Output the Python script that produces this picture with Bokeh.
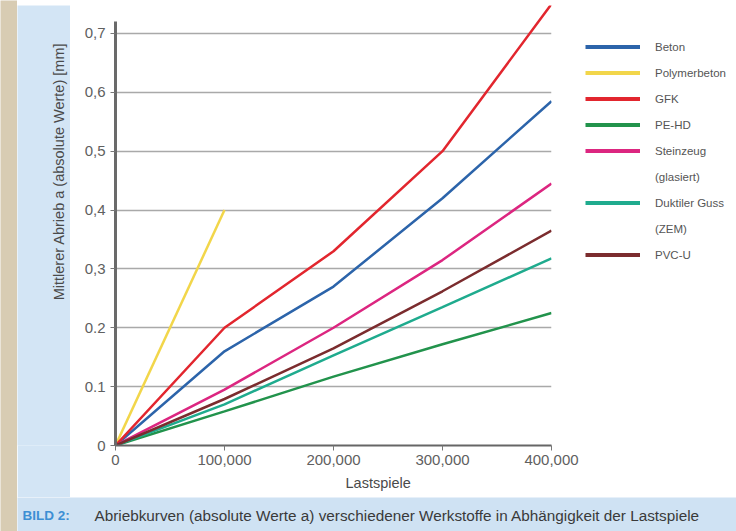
from bokeh.plotting import figure
from bokeh.models import Legend, LegendItem, Label, FixedTicker, Range1d, Title
from bokeh.layouts import row, column
from bokeh.embed import file_html
from bokeh.resources import INLINE
import math

# ---- data ----
lastspiele = [0, 100000, 200000, 300000, 400000]
polymer_x = [0, 100000]
beton = [0, 0.16, 0.27, 0.42, 0.585]
polymerbeton = [0, 0.40]
gfk = [0, 0.20, 0.33, 0.50, 0.75]
pe_hd = [0, 0.058, 0.117, 0.172, 0.225]
steinzeug = [0, 0.095, 0.20, 0.315, 0.445]
duktil = [0, 0.07, 0.153, 0.235, 0.318]
pvc_u = [0, 0.079, 0.165, 0.262, 0.365]

series_names = ["Beton", "Polymerbeton", "GFK", "PE-HD", "Steinzeug", "(glasiert)",
                "Duktiler Guss", "(ZEM)", "PVC-U"]

y_ticks = [0, 0.1, 0.2, 0.3, 0.4, 0.5, 0.6, 0.7]
y_tick_labels = ["0", "0.1", "0.2", "0,3", "0,4", "0,5", "0,6", "0,7"]
x_ticks = [0, 100000, 200000, 300000, 400000]
x_tick_labels = ["0", "100,000", "200,000", "300,000", "400,000"]

FONT = "Liberation Sans"
TXT = "#4a4a4a"
colors = {"Beton": "#2c64aa", "Polymerbeton": "#f2d64a", "GFK": "#e2262e",
          "PE-HD": "#22934c", "Steinzeug": "#dc2680", "Duktiler Guss": "#1fab8e",
          "PVC-U": "#7b2c2e"}


def blank_fig(w, h, color):
    f = figure(width=w, height=h, output_backend="svg", toolbar_location=None,
               x_axis_location=None, y_axis_location=None,
               x_range=Range1d(0, 1), y_range=Range1d(0, 1),
               min_border=0, min_border_left=0, min_border_right=0,
               min_border_top=0, min_border_bottom=0)
    f.grid.visible = False
    f.outline_line_color = None
    f.background_fill_color = color
    f.border_fill_color = color
    return f


BEIGE = "#d8ccb3"
beige_left = blank_fig(17, 531, BEIGE)
beige_top = blank_fig(719, 5, BEIGE)

# light blue strip with y-axis title
strip = blank_fig(53, 492, "#d3e5f5")
strip.add_layout(Label(x=41, y=274, x_units="screen", y_units="screen",
                       text="Mittlerer Abrieb a (absolute Werte) [mm]",
                       angle=math.pi / 2, text_align="center", text_baseline="middle",
                       text_font=FONT, text_font_size="14.5px", text_color=TXT))

# caption band
cap = blank_fig(719, 34, "#cfe2f3")
cap.add_layout(Label(x=5, y=16, x_units="screen", y_units="screen", text="BILD 2:",
                     text_font=FONT, text_font_size="13.5px", text_color="#3d8fd4",
                     text_font_style="bold", text_baseline="middle"))
cap.add_layout(Label(x=77, y=16, x_units="screen", y_units="screen",
                     text="Abriebkurven (absolute Werte a) verschiedener Werkstoffe in Abhängigkeit der Lastspiele",
                     text_font=FONT, text_font_size="15.3px", text_color="#3a3a3a",
                     text_baseline="middle"))

# main chart
p = figure(width=511, height=492, output_backend="svg", toolbar_location=None,
           x_range=Range1d(0, 400000), y_range=Range1d(0, 0.7475),
           min_border_left=45, min_border_right=30, min_border_top=0,
           min_border_bottom=52)
p.outline_line_color = None
p.background_fill_color = "white"
p.border_fill_color = "white"

p.xgrid.visible = False
p.ygrid.ticker = FixedTicker(ticks=y_ticks[1:])
p.ygrid.grid_line_color = "#a9a9a9"
p.ygrid.grid_line_width = 1.5

p.yaxis.ticker = FixedTicker(ticks=y_ticks)
p.yaxis.major_label_overrides = {t: l for t, l in zip(y_ticks, y_tick_labels)}
p.yaxis.bounds = (0, 0.72)
p.xaxis.ticker = FixedTicker(ticks=x_ticks)
p.xaxis.major_label_overrides = {t: l for t, l in zip(x_ticks, x_tick_labels)}
for ax in (p.xaxis, p.yaxis):
    ax.minor_tick_line_color = None
    ax.major_tick_in = 0
    ax.major_tick_out = 5
    ax.major_tick_line_color = "#777777"
    ax.major_label_text_font = FONT
    ax.major_label_text_font_size = "15px"
    ax.major_label_text_color = "#606060"
p.yaxis.axis_line_color = "#6a6a6a"
p.yaxis.axis_line_width = 3
p.xaxis.axis_line_color = "#666666"
p.xaxis.axis_line_width = 2
p.yaxis.major_label_standoff = 5
p.xaxis.major_label_standoff = 4

p.add_layout(Title(text="Lastspiele", align="left", offset=230, standoff=10,
                   text_font=FONT, text_font_size="14.5px", text_font_style="normal",
                   text_color=TXT), "below")

W = 2.5
p.line(lastspiele, beton, line_color=colors["Beton"], line_width=W)
p.line(polymer_x, polymerbeton, line_color=colors["Polymerbeton"], line_width=W)
p.line(lastspiele, gfk, line_color=colors["GFK"], line_width=W)
p.line(lastspiele, pe_hd, line_color=colors["PE-HD"], line_width=W)
p.line(lastspiele, steinzeug, line_color=colors["Steinzeug"], line_width=W)
p.line(lastspiele, duktil, line_color=colors["Duktiler Guss"], line_width=W)
p.line(lastspiele, pvc_u, line_color=colors["PVC-U"], line_width=W)

# legend panel (separate figure, proxies carry no visible data)
lg = blank_fig(155, 492, "white")
nan = float("nan")
items = []
for name in series_names:
    if name in colors:
        proxy = lg.line([nan], [nan], line_color=colors[name], line_width=4)
    else:
        proxy = lg.line([nan], [nan], line_alpha=0)
    items.append(LegendItem(label=name, renderers=[proxy]))

legend = Legend(items=items, location=(4, 180), padding=0, margin=0,
                glyph_width=55, glyph_height=21, label_height=21, spacing=5,
                label_standoff=15, background_fill_alpha=0, border_line_color=None,
                label_text_font=FONT, label_text_font_size="11.5px",
                label_text_color="#555555")
lg.add_layout(legend, "center")

layout = row(beige_left, column(beige_top, row(strip, p, lg), cap))
open("out.html", "w").write(file_html(layout, INLINE))
